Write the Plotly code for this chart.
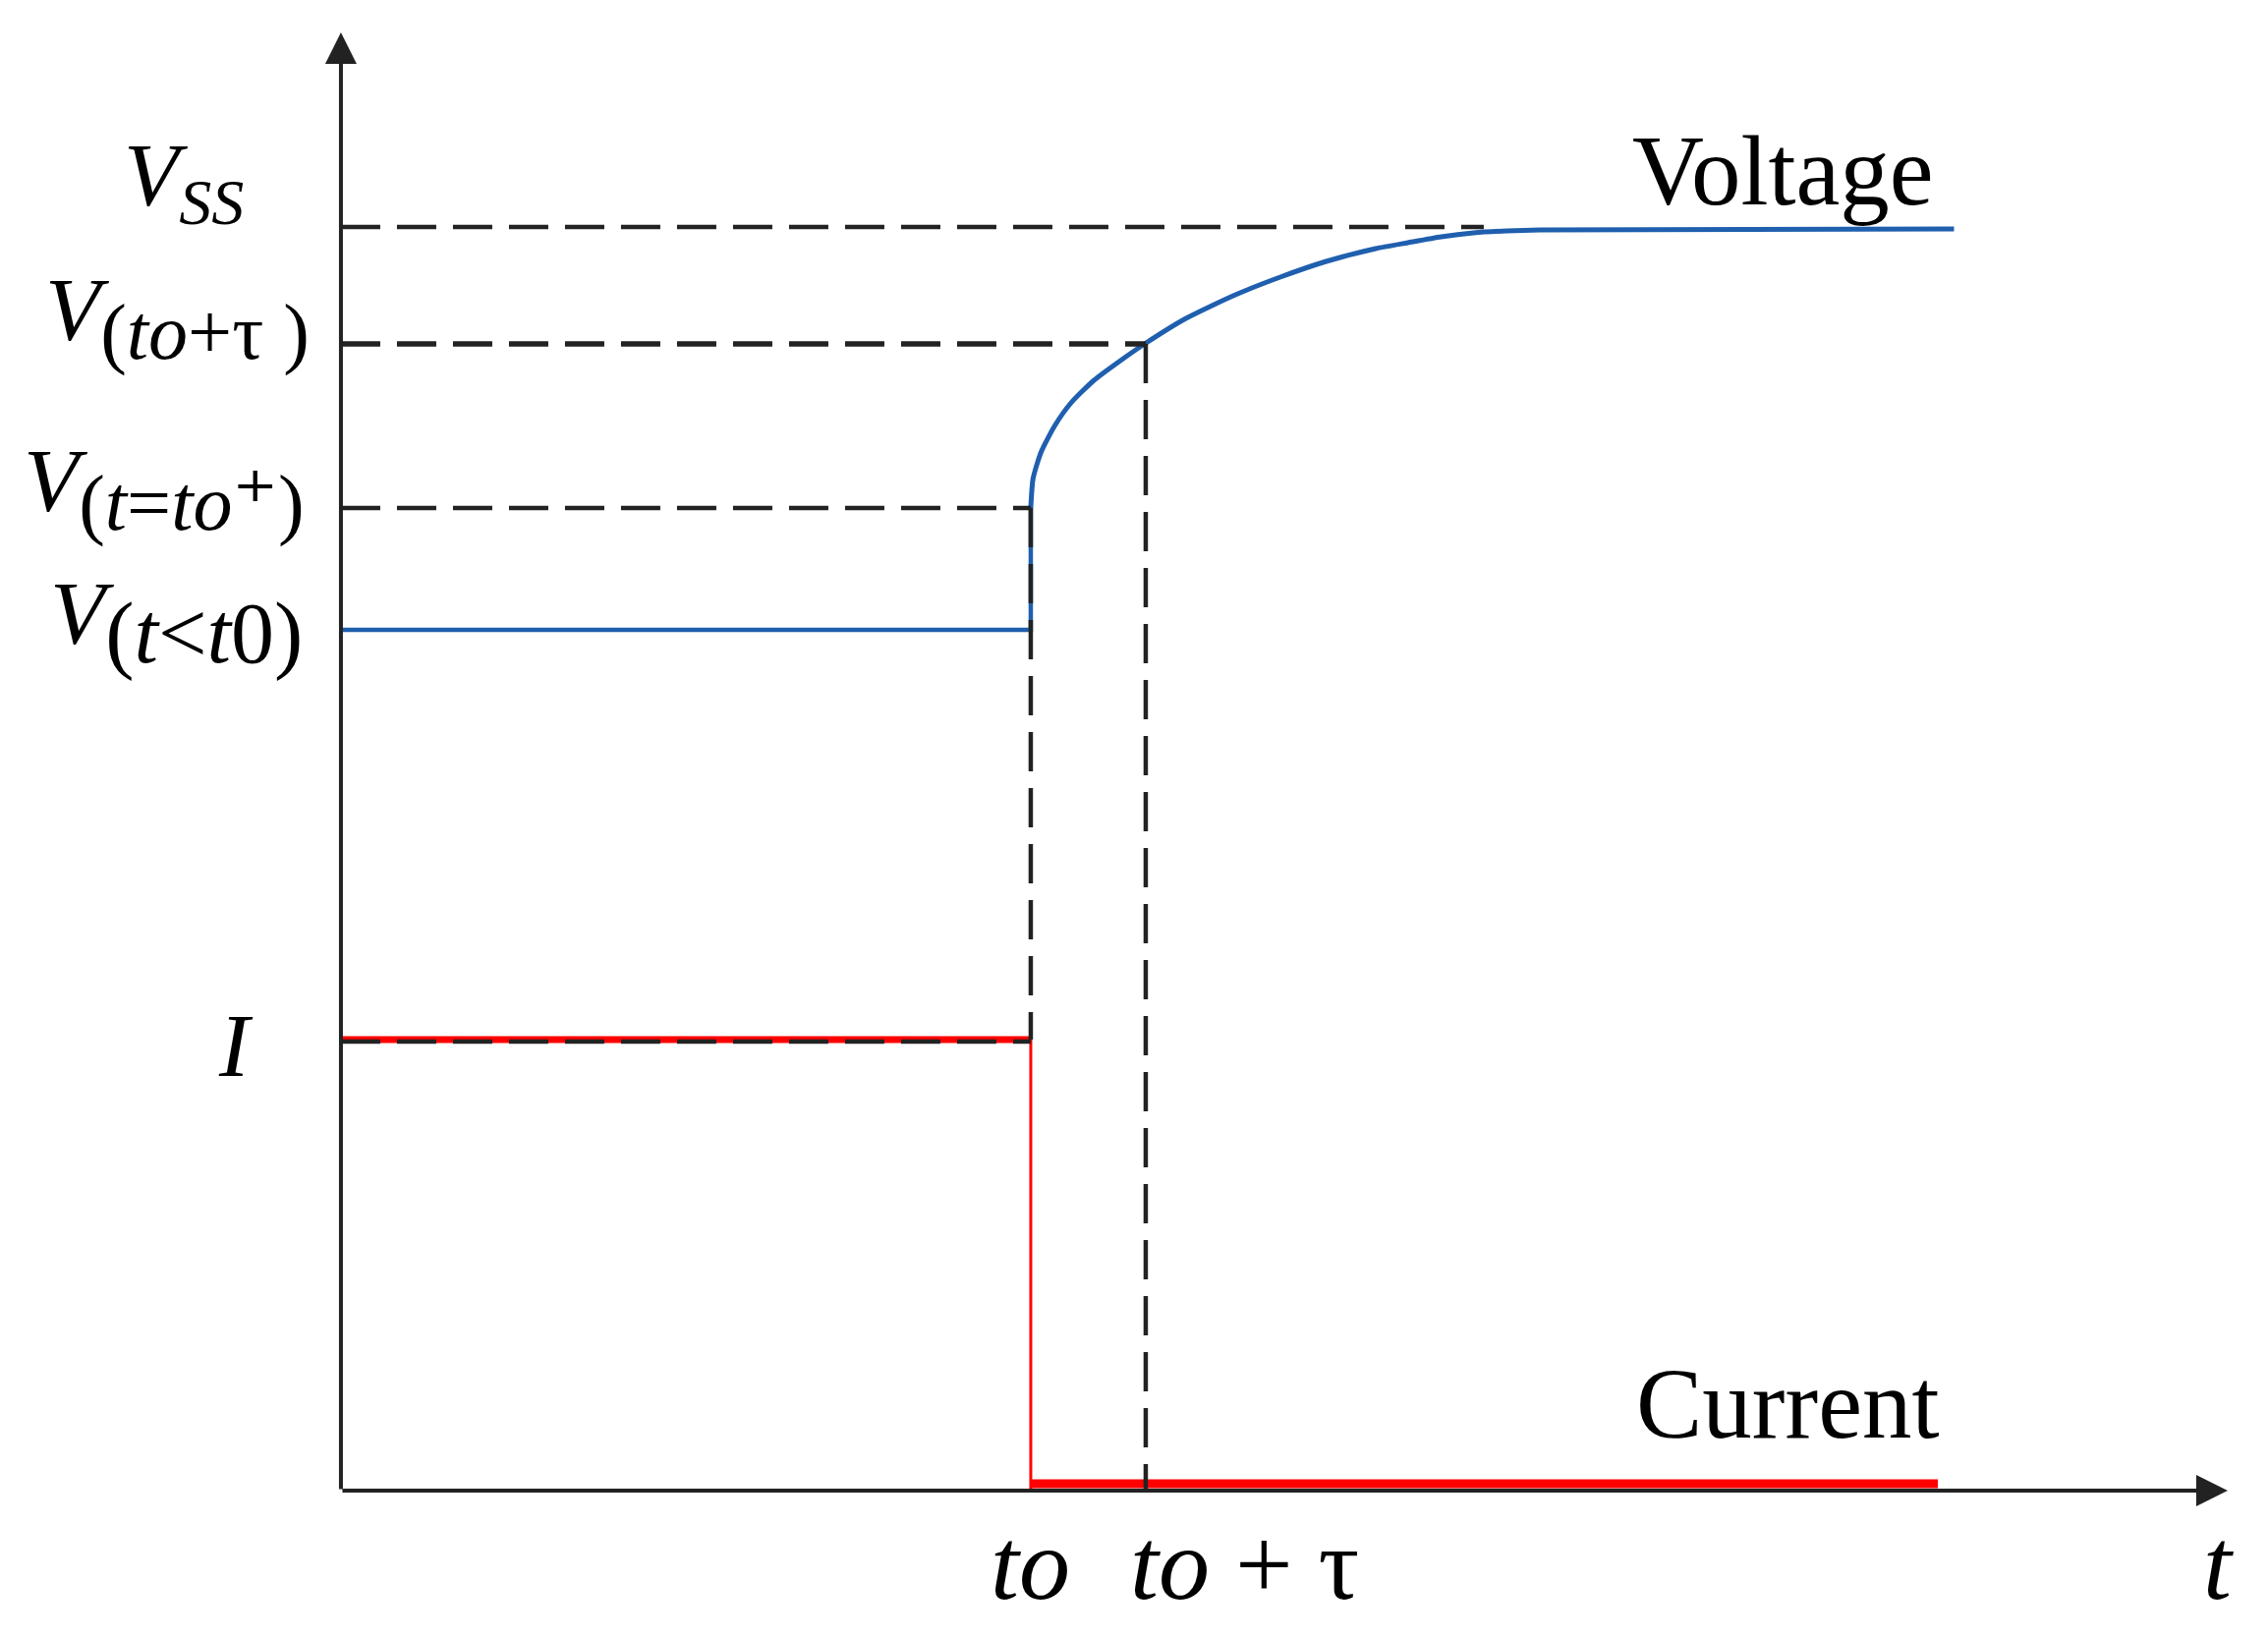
import plotly.graph_objects as go

# time in units of tau, signal levels in arbitrary units
t0 = 6.0
tau = 1.0
v_before = 8.76     # V(t<t0)
v_plus = 10.0       # V(t=to+)
v_tau = 11.67       # V(to+tau)
v_ss = 12.86        # Vss guide
cur_i = 4.59        # I

# voltage rise after the step
rise_t = [6.0, 6.02, 6.09, 6.21, 6.35, 6.55, 6.78, 6.99, 7.35, 7.78, 8.17, 8.57,
          9.0, 9.28, 9.57, 9.85, 10.14, 10.43, 14.03]
rise_v = [10.0, 10.30, 10.57, 10.84, 11.07, 11.30, 11.50, 11.67, 11.93, 12.17, 12.35, 12.51,
          12.64, 12.70, 12.76, 12.80, 12.82, 12.83, 12.84]

ss_meet = 9.94      # where the Vss guide meets the curve
cur_end = 13.89
cur_off = 0.07      # current line sits just above the axis
t_axis_end = 16.41
v_axis_end = 14.84

BLUE = "#1f5fae"
RED = "#ff0000"
INK = "#222222"
FONT = "Liberation Serif"

fig = go.Figure()

def line(x, y, color, width, dash="solid", smooth=None):
    style = dict(color=color, width=width, dash=dash)
    if smooth:
        style.update(shape="spline", smoothing=smooth)
    fig.add_trace(go.Scatter(x=x, y=y, mode="lines", hoverinfo="skip", line=style))

# voltage
line([0, t0, t0], [v_before, v_before, v_plus], BLUE, 4.5)
line(rise_t, rise_v, BLUE, 5, smooth=0.6)

# current
line([0, t0], [cur_i, cur_i], RED, 7)
line([t0, t0], [cur_i, 0], RED, 3)
line([t0, cur_end], [cur_off, cur_off], RED, 9)

# dashed guides
dash = "40px,17px"
line([0, ss_meet], [v_ss, v_ss], INK, 4.5, dash)
line([0, t0 + tau], [v_tau, v_tau], INK, 5.5, dash)
line([0, t0], [v_plus, v_plus], INK, 4.5, dash)
line([0, t0], [cur_i - 0.02, cur_i - 0.02], INK, 4.5, dash)
line([t0, t0], [v_plus, cur_i], INK, 4.5, dash)
line([t0 + tau, t0 + tau], [v_tau, 0], INK, 4.5, dash)

# axes with arrows
arrow = dict(xref="x", yref="y", axref="x", ayref="y", text="", showarrow=True,
             arrowhead=2, arrowsize=1.6, arrowwidth=4, arrowcolor=INK)
fig.add_annotation(x=0, y=v_axis_end, ax=0, ay=0, **arrow)
fig.add_annotation(x=t_axis_end, y=0, ax=0, ay=0, **arrow)

def label(x, y, text, xanchor="center", size=92):
    fig.add_annotation(x=x, y=y, xref="x", yref="y", text=text, showarrow=False,
                       xanchor=xanchor, yanchor="middle",
                       font=dict(family=FONT, size=size, color="black"))

def sub(text, size=80):
    return '<sub><span style="font-size:%dpx">%s</span></sub>' % (size, text)

plus = '<span style="font-size:88px;font-family:DejaVu Serif">⁺</span>'

label(-0.83, 13.33, "<i>V</i>" + sub("<i>SS</i>", 66), "right")
label(-0.26, 11.94, "<i>V</i>" + sub("(<i>to</i>+τ )"), "right")
label(-0.30, 10.18, "<i>V</i>" + sub("(<i>t</i>=<i>to</i>" + plus + ")", 80), "right")
label(-0.32, 8.84, "<i>V</i>" + sub("(<i>t</i>&lt;<i>t</i>0)", 88), "right")
label(-0.91, 4.53, "<i>I</i>")
label(t0, -0.74, "<i>to</i>", size=104)
label(7.86, -0.74, "<i>to</i> + τ", size=104)
label(16.33, -0.74, "<i>t</i>", size=104)
label(12.54, 13.43, "Voltage", size=101)
label(12.59, 0.88, "Current", size=101)

fig.update_layout(
    width=2308, height=1667,
    margin=dict(l=0, r=0, t=0, b=0),
    paper_bgcolor="white", plot_bgcolor="white",
    showlegend=False,
    xaxis=dict(range=[-2.897, -2.897 + 2308 / 117], visible=False, fixedrange=True),
    yaxis=dict(range=[15.09 - 16.67, 15.09], visible=False, fixedrange=True),
)

fig.write_html("out.html")
